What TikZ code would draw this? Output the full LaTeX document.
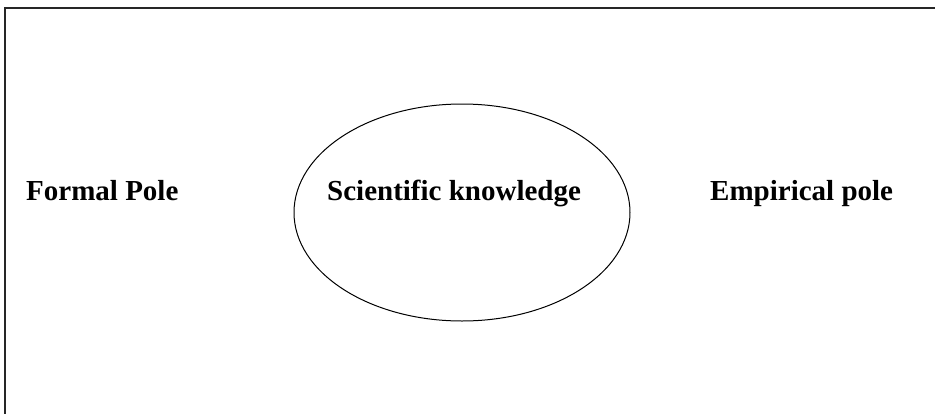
\documentclass[tikz,border=0pt]{standalone}
\usepackage{fontspec}
\setmainfont{Liberation Serif}
\usetikzlibrary{shapes.geometric}
\begin{document}
\begin{tikzpicture}[x=1pt,y=-1pt,
  lbl/.style={anchor=base west,inner sep=0pt,font=\fontsize{29}{34}\selectfont\bfseries},
  frame/.style={draw=black!85,line width=2pt}]
\useasboundingbox (0,0) rectangle (935,413);
\coordinate (fl) at (5,420);
\coordinate (fc) at (5,8);
\coordinate (fr) at (940,8);
\draw[frame] (fl) -- (fc) -- (fr);
\node[draw,ellipse,line width=1pt,minimum width=336pt,minimum height=217pt,inner sep=0pt] (ell) at (462,212.5) {};
\node[lbl] (sk) at (327,200) {Scientific knowledge};
\node[lbl] (fp) at (26,200) {Formal Pole};
\node[lbl] (ep) at (710,200) {Empirical pole};
\end{tikzpicture}
\end{document}
